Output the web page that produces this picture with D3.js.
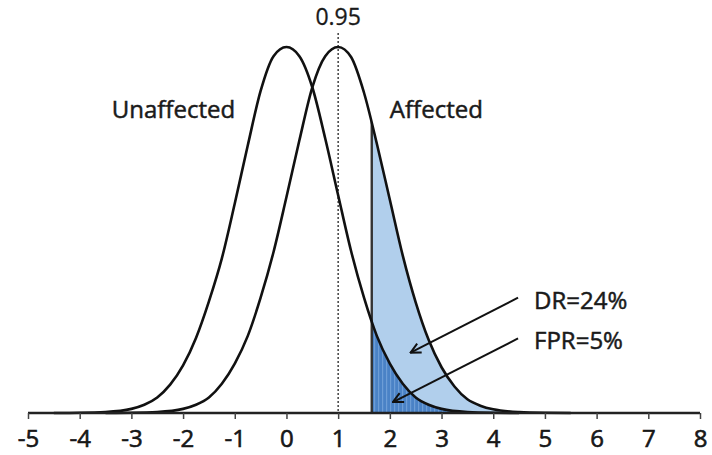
<!DOCTYPE html>
<html>
<head>
<meta charset="utf-8">
<script src="https://cdn.jsdelivr.net/npm/d3@7"></script>
<style>
  html, body { margin: 0; padding: 0; background: #fff; }
  svg { display: block; }
  text { font-family: "Open Sans", "Liberation Sans", Arial, sans-serif; fill: #1a1a1a; }
</style>
</head>
<body>
<svg id="chart" width="712" height="455"></svg>
<script>
// Density of the unaffected population (centred on 0)
const unaffectedX = [-4.5, -4, -3.5, -3, -2.75, -2.5, -2.25, -2, -1.75, -1.5, -1.25, -1, -0.75, -0.5, -0.25,
                     0, 0.25, 0.5, 0.75, 1, 1.25, 1.5, 1.75, 2, 2.25, 2.5, 2.75, 3, 3.5, 4, 4.5];
const unaffectedY = [0, 0.0002, 0.001, 0.0045, 0.009, 0.017, 0.031, 0.052, 0.082, 0.122, 0.169, 0.229, 0.292, 0.352, 0.390,
                     0.400, 0.390, 0.356, 0.300, 0.238, 0.177, 0.126, 0.084, 0.054, 0.032, 0.017, 0.009, 0.0045, 0.001, 0.0002, 0];

// Density of the affected population (centred on 1)
const affectedX = [-3.5, -3, -2.5, -2, -1.75, -1.5, -1.25, -1, -0.75, -0.5, -0.25, 0, 0.25, 0.5, 0.75,
                   1, 1.25, 1.5, 1.75, 2, 2.25, 2.5, 2.75, 3, 3.25, 3.5, 3.75, 4, 4.5, 5, 5.5];
const affectedY = [0, 0.0002, 0.001, 0.0045, 0.009, 0.017, 0.032, 0.054, 0.084, 0.126, 0.176, 0.236, 0.298, 0.356, 0.390,
                   0.400, 0.389, 0.350, 0.294, 0.233, 0.172, 0.121, 0.080, 0.050, 0.029, 0.015, 0.008, 0.004, 0.001, 0.0002, 0];

const tickValues = [-5, -4, -3, -2, -1, 0, 1, 2, 3, 4, 5, 6, 7, 8];
const cutoff = 1.65;       // screening cut-off
const meanMarker = 1;      // dashed reference line
const meanLabel = "0.95";
const groupLabels = [{ text: "Unaffected", x: -3.38 }, { text: "Affected", x: 2.0 }];
const rateLabels = [
  { text: "DR=24%", from: [4.48, 0.1260], to: [2.4, 0.066] },
  { text: "FPR=5%", from: [4.48, 0.0815], to: [2.06, 0.012] }
];

const svg = d3.select("#chart");
const x = d3.scaleLinear().domain([-5, 8]).range([28, 700]);
const y = d3.scaleLinear().domain([0, 0.4]).range([413, 47]);

const unaffected = unaffectedX.map((v, i) => [v, unaffectedY[i]]);
const affected = affectedX.map((v, i) => [v, affectedY[i]]);

const line = d3.line().x(d => x(d[0])).y(d => y(d[1])).curve(d3.curveMonotoneX);
const area = d3.area().x(d => x(d[0])).y0(y(0)).y1(d => y(d[1])).curve(d3.curveMonotoneX);

const defs = svg.append("defs");
defs.append("clipPath").attr("id", "beyondCut")
  .append("rect").attr("x", x(cutoff)).attr("y", 0).attr("width", 712).attr("height", y(0));
defs.append("clipPath").attr("id", "underAffected")
  .append("path").attr("d", area(affected));

const stripes = defs.append("pattern").attr("id", "stripes")
  .attr("patternUnits", "userSpaceOnUse").attr("width", 4).attr("height", 10);
stripes.append("rect").attr("width", 4).attr("height", 10).attr("fill", "#4a82c6");
stripes.append("rect").attr("x", 2).attr("width", 1.2).attr("height", 10).attr("fill", "#6d9dd6");

// shaded tails beyond the cut-off
svg.append("path").attr("d", area(affected)).attr("fill", "#b1cfec").attr("clip-path", "url(#beyondCut)");
svg.append("path").attr("d", area(unaffected)).attr("fill", "url(#stripes)").attr("clip-path", "url(#beyondCut)");

// cut-off line, limited to the area under the affected curve
svg.append("line")
  .attr("x1", x(cutoff)).attr("x2", x(cutoff)).attr("y1", 0).attr("y2", y(0))
  .attr("stroke", "#333").attr("stroke-width", 2.4).attr("clip-path", "url(#underAffected)");

// dashed line at the affected mean
svg.append("line")
  .attr("x1", x(meanMarker)).attr("x2", x(meanMarker)).attr("y1", 33).attr("y2", y(0))
  .attr("stroke", "#333").attr("stroke-width", 1.4).attr("stroke-dasharray", "2,2");
svg.append("text").attr("x", x(meanMarker)).attr("y", 25).attr("text-anchor", "middle")
  .attr("font-size", 23).attr("stroke", "#1a1a1a").attr("stroke-width", 0.3).text(meanLabel);

// density curves
[unaffected, affected].forEach(d => {
  svg.append("path").attr("d", line(d)).attr("fill", "none")
    .attr("stroke", "#111").attr("stroke-width", 2.6);
});

// x axis
const axis = d3.axisBottom(x).tickValues(tickValues).tickSize(6).tickFormat(d3.format("d"));
const g = svg.append("g").attr("transform", `translate(0,${y(0)})`).call(axis);
g.select(".domain").attr("stroke", "#222").attr("stroke-width", 2.6).attr("d", `M${x(-5)},0H${x(8)}`);
g.selectAll(".tick line").attr("stroke", "#444").attr("stroke-width", 1.5);
g.selectAll(".tick text").attr("font-size", 24).attr("font-family", "Liberation Sans, Arial, sans-serif")
  .attr("fill", "#111").attr("stroke", "#111").attr("stroke-width", 0.6)
  .attr("y", 34).attr("dy", null)
  .text(d => d < 0 ? "-" + Math.abs(d) : d);

// group labels
groupLabels.forEach(l => {
  svg.append("text").attr("x", x(l.x)).attr("y", 118).attr("font-size", 24)
    .attr("stroke", "#1a1a1a").attr("stroke-width", 0.5).text(l.text);
});

// arrow annotations
defs.append("marker").attr("id", "arrow").attr("viewBox", "0 0 12 12")
  .attr("refX", 11).attr("refY", 6).attr("markerWidth", 12).attr("markerHeight", 12)
  .attr("markerUnits", "userSpaceOnUse").attr("orient", "auto")
  .append("path").attr("d", "M1,1 L11,6 L1,11").attr("fill", "none")
  .attr("stroke", "#111").attr("stroke-width", 2);

rateLabels.forEach(l => {
  svg.append("line")
    .attr("x1", x(l.from[0])).attr("y1", y(l.from[1]))
    .attr("x2", x(l.to[0])).attr("y2", y(l.to[1]))
    .attr("stroke", "#111").attr("stroke-width", 2).attr("marker-end", "url(#arrow)");
  svg.append("text").attr("x", x(l.from[0]) + 16).attr("y", y(l.from[1]) + 11)
    .attr("font-size", 24).attr("stroke", "#1a1a1a").attr("stroke-width", 0.5).text(l.text);
});
</script>
</body>
</html>
